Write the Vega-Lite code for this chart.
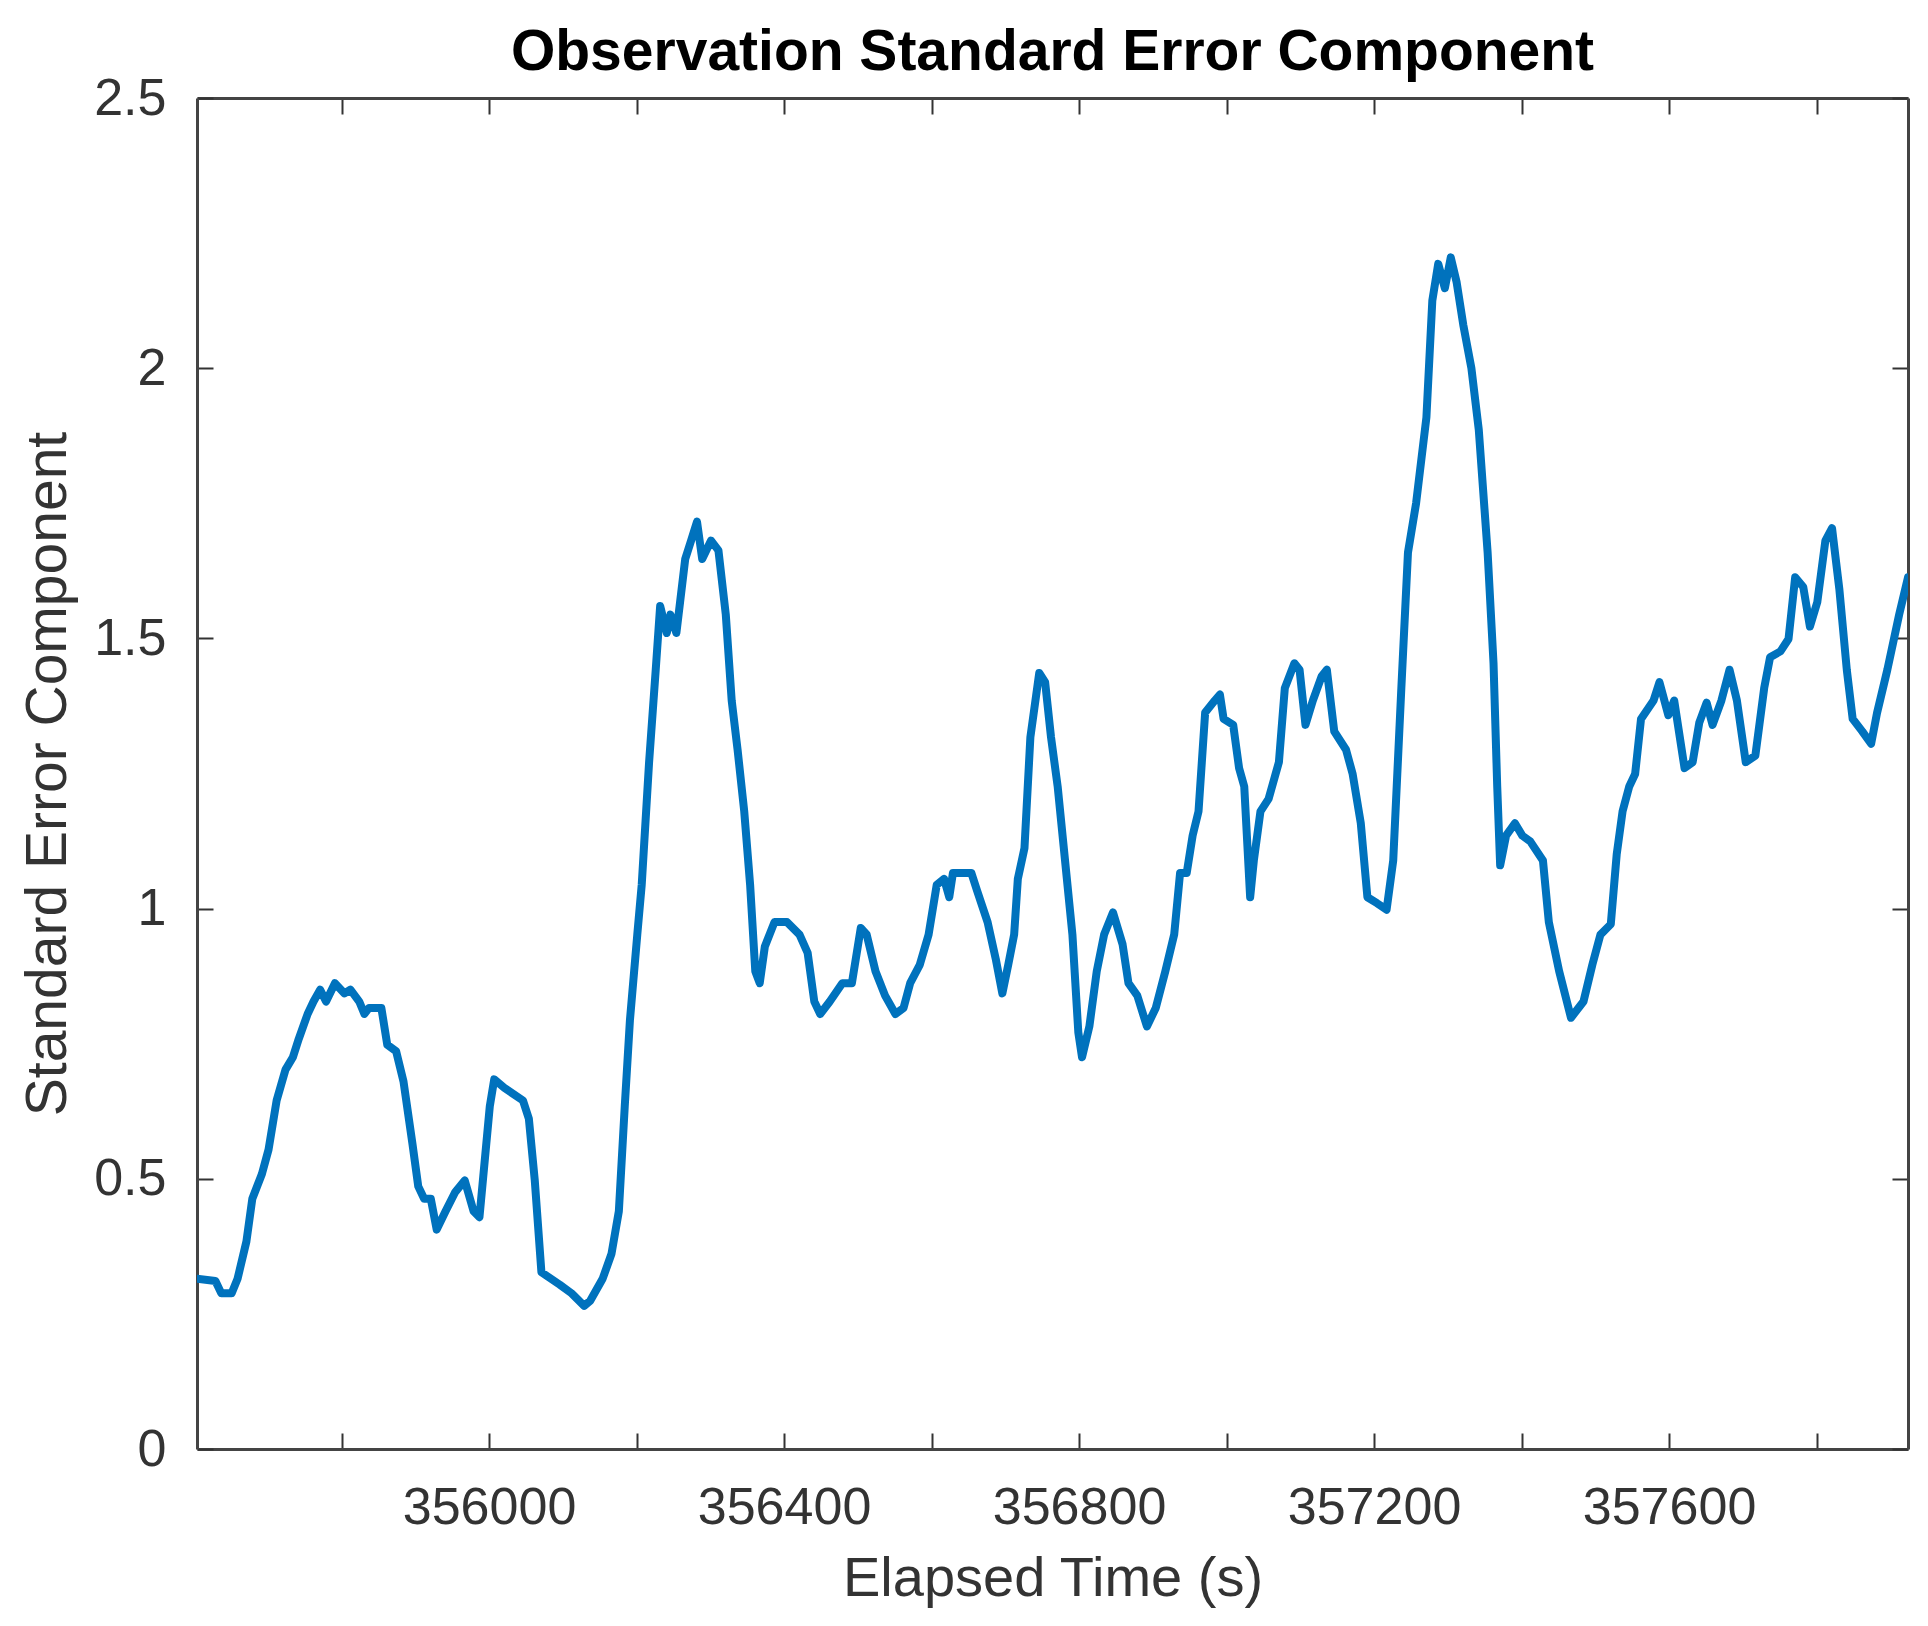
{
  "$schema": "https://vega.github.io/schema/vega-lite/v6.json",
  "autosize": {"type": "none"},
  "width": 1711,
  "height": 1351,
  "padding": {"left": 197, "top": 98, "right": 20, "bottom": 177},
  "background": "white",
  "config": {"view": {"stroke": null}, "font": "Liberation Sans, Arial"},
  "title": {"text": "Observation Standard Error Component", "font": "Liberation Sans, Arial", "fontSize": 57, "fontWeight": "bold", "color": "#000", "anchor": "middle", "offset": -10},
  "data": {"values": [
    {"t":355604,"e":0.315},{"t":355629,"e":0.311},{"t":355637,"e":0.288},{"t":355651,"e":0.288},{"t":355659,"e":0.315},
    {"t":355671,"e":0.384},{"t":355679,"e":0.463},{"t":355692,"e":0.509},{"t":355701,"e":0.554},{"t":355712,"e":0.645},
    {"t":355724,"e":0.702},{"t":355734,"e":0.725},{"t":355742,"e":0.759},{"t":355754,"e":0.805},{"t":355762,"e":0.828},
    {"t":355771,"e":0.850},{"t":355779,"e":0.828},{"t":355791,"e":0.862},{"t":355804,"e":0.843},{"t":355812,"e":0.850},
    {"t":355824,"e":0.828},{"t":355831,"e":0.805},{"t":355837,"e":0.816},{"t":355854,"e":0.816},{"t":355862,"e":0.748},
    {"t":355874,"e":0.736},{"t":355884,"e":0.680},{"t":355896,"e":0.566},{"t":355904,"e":0.486},{"t":355912,"e":0.463},
    {"t":355921,"e":0.463},{"t":355929,"e":0.406},{"t":355941,"e":0.440},{"t":355954,"e":0.475},{"t":355967,"e":0.497},
    {"t":355979,"e":0.440},{"t":355987,"e":0.429},{"t":356001,"e":0.634},{"t":356007,"e":0.684},{"t":356021,"e":0.668},
    {"t":356046,"e":0.645},{"t":356054,"e":0.611},{"t":356062,"e":0.497},{"t":356071,"e":0.327},{"t":356096,"e":0.304},
    {"t":356112,"e":0.288},{"t":356129,"e":0.265},{"t":356137,"e":0.274},{"t":356154,"e":0.315},{"t":356166,"e":0.361},
    {"t":356176,"e":0.440},{"t":356184,"e":0.634},{"t":356191,"e":0.793},{"t":356201,"e":0.952},{"t":356207,"e":1.044},
    {"t":356217,"e":1.271},{"t":356226,"e":1.442},{"t":356232,"e":1.560},{"t":356241,"e":1.510},{"t":356246,"e":1.544},
    {"t":356254,"e":1.510},{"t":356259,"e":1.567},{"t":356266,"e":1.647},{"t":356274,"e":1.681},{"t":356282,"e":1.716},
    {"t":356289,"e":1.647},{"t":356301,"e":1.681},{"t":356311,"e":1.663},{"t":356321,"e":1.544},{"t":356329,"e":1.385},
    {"t":356337,"e":1.294},{"t":356346,"e":1.180},{"t":356354,"e":1.044},{"t":356361,"e":0.884},{"t":356367,"e":0.862},
    {"t":356374,"e":0.930},{"t":356387,"e":0.975},{"t":356404,"e":0.975},{"t":356421,"e":0.952},{"t":356432,"e":0.918},
    {"t":356441,"e":0.828},{"t":356449,"e":0.805},{"t":356462,"e":0.828},{"t":356479,"e":0.862},{"t":356492,"e":0.862},
    {"t":356504,"e":0.964},{"t":356512,"e":0.952},{"t":356524,"e":0.884},{"t":356537,"e":0.839},{"t":356551,"e":0.805},
    {"t":356562,"e":0.816},{"t":356571,"e":0.862},{"t":356584,"e":0.896},{"t":356596,"e":0.952},{"t":356607,"e":1.044},
    {"t":356617,"e":1.055},{"t":356624,"e":1.021},{"t":356629,"e":1.066},{"t":356646,"e":1.066},{"t":356654,"e":1.066},
    {"t":356662,"e":1.032},{"t":356676,"e":0.975},{"t":356687,"e":0.907},{"t":356696,"e":0.843},{"t":356704,"e":0.896},
    {"t":356712,"e":0.952},{"t":356717,"e":1.055},{"t":356726,"e":1.112},{"t":356734,"e":1.317},{"t":356746,"e":1.436},
    {"t":356754,"e":1.419},{"t":356762,"e":1.317},{"t":356771,"e":1.226},{"t":356781,"e":1.089},{"t":356791,"e":0.952},
    {"t":356799,"e":0.771},{"t":356804,"e":0.725},{"t":356814,"e":0.782},{"t":356824,"e":0.884},{"t":356834,"e":0.952},
    {"t":356846,"e":0.993},{"t":356859,"e":0.934},{"t":356867,"e":0.862},{"t":356879,"e":0.839},{"t":356892,"e":0.782},
    {"t":356904,"e":0.816},{"t":356917,"e":0.884},{"t":356929,"e":0.952},{"t":356937,"e":1.066},{"t":356946,"e":1.066},
    {"t":356954,"e":1.135},{"t":356962,"e":1.180},{"t":356971,"e":1.363},{"t":356984,"e":1.385},{"t":356991,"e":1.396},
    {"t":356996,"e":1.351},{"t":357009,"e":1.340},{"t":357017,"e":1.260},{"t":357024,"e":1.226},{"t":357032,"e":1.021},
    {"t":357037,"e":1.089},{"t":357046,"e":1.180},{"t":357057,"e":1.203},{"t":357071,"e":1.271},{"t":357079,"e":1.408},
    {"t":357092,"e":1.454},{"t":357099,"e":1.442},{"t":357107,"e":1.340},{"t":357117,"e":1.385},{"t":357129,"e":1.430},
    {"t":357136,"e":1.442},{"t":357146,"e":1.328},{"t":357162,"e":1.294},{"t":357171,"e":1.249},{"t":357182,"e":1.158},
    {"t":357191,"e":1.021},{"t":357204,"e":1.010},{"t":357217,"e":0.998},{"t":357226,"e":1.089},{"t":357237,"e":1.408},
    {"t":357246,"e":1.659},{"t":357257,"e":1.750},{"t":357271,"e":1.909},{"t":357279,"e":2.125},{"t":357287,"e":2.193},
    {"t":357296,"e":2.148},{"t":357304,"e":2.205},{"t":357312,"e":2.159},{"t":357321,"e":2.080},{"t":357332,"e":2.000},
    {"t":357342,"e":1.886},{"t":357354,"e":1.659},{"t":357362,"e":1.454},{"t":357367,"e":1.226},{"t":357371,"e":1.080},
    {"t":357379,"e":1.135},{"t":357391,"e":1.158},{"t":357401,"e":1.135},{"t":357412,"e":1.124},{"t":357429,"e":1.089},
    {"t":357437,"e":0.975},{"t":357451,"e":0.884},{"t":357467,"e":0.798},{"t":357484,"e":0.828},{"t":357496,"e":0.896},
    {"t":357507,"e":0.952},{"t":357521,"e":0.971},{"t":357529,"e":1.100},{"t":357537,"e":1.180},{"t":357546,"e":1.226},
    {"t":357554,"e":1.249},{"t":357562,"e":1.351},{"t":357579,"e":1.385},{"t":357587,"e":1.419},{"t":357599,"e":1.358},
    {"t":357607,"e":1.385},{"t":357621,"e":1.260},{"t":357632,"e":1.271},{"t":357641,"e":1.344},{"t":357651,"e":1.381},
    {"t":357659,"e":1.340},{"t":357671,"e":1.385},{"t":357682,"e":1.442},{"t":357692,"e":1.385},{"t":357704,"e":1.271},
    {"t":357717,"e":1.283},{"t":357729,"e":1.408},{"t":357737,"e":1.465},{"t":357751,"e":1.476},{"t":357762,"e":1.499},
    {"t":357771,"e":1.613},{"t":357782,"e":1.595},{"t":357791,"e":1.522},{"t":357801,"e":1.567},{"t":357812,"e":1.681},
    {"t":357821,"e":1.704},{"t":357831,"e":1.590},{"t":357841,"e":1.442},{"t":357849,"e":1.351},{"t":357862,"e":1.328},
    {"t":357874,"e":1.305},{"t":357882,"e":1.362},{"t":357896,"e":1.442},{"t":357912,"e":1.544},{"t":357924,"e":1.613}
  ]},
  "layer": [
    {
      "mark": {"type": "line", "color": "#0072BD", "strokeWidth": 8, "strokeJoin": "round", "strokeCap": "round", "clip": true},
      "encoding": {
        "x": {"field": "t", "type": "quantitative", "scale": {"domain": [355604, 357924], "nice": false, "zero": false},
          "axis": {"orient": "bottom", "values": [355800, 356000, 356200, 356400, 356600, 356800, 357000, 357200, 357400, 357600, 357800],
            "labelExpr": "datum.value % 400 === 0 ? format(datum.value, 'd') : ''",
            "grid": false, "tickSize": -16, "tickWidth": 2, "tickColor": "#333", "domainColor": "#444", "domainWidth": 3,
            "labelFontSize": 52, "labelColor": "#333", "labelPadding": 49, "labelOverlap": false, "labelFlush": false, "labelLimit": 0,
            "title": "Elapsed Time (s)", "titleFontSize": 56, "titleFontWeight": "normal", "titleColor": "#333", "titlePadding": 18, "titleLimit": 0}},
        "y": {"field": "e", "type": "quantitative", "scale": {"domain": [0, 2.5], "nice": false},
          "axis": {"orient": "left", "values": [0, 0.5, 1, 1.5, 2, 2.5], "format": "~g",
            "grid": false, "tickSize": -16, "tickWidth": 2, "tickColor": "#333", "domainColor": "#444", "domainWidth": 3,
            "labelFontSize": 52, "labelColor": "#333", "labelPadding": 47, "labelOverlap": false, "labelFlush": false, "labelLimit": 0,
            "title": "Standard Error Component", "titleFontSize": 57, "titleFontWeight": "normal", "titleColor": "#333", "titlePadding": 16, "titleLimit": 0}}
      }
    },
    {
      "mark": {"type": "line", "opacity": 0},
      "encoding": {
        "x": {"field": "t", "type": "quantitative", "scale": {"domain": [355604, 357924], "nice": false, "zero": false},
          "axis": {"orient": "top", "values": [355800, 356000, 356200, 356400, 356600, 356800, 357000, 357200, 357400, 357600, 357800],
            "labels": false, "title": null, "grid": false, "tickSize": -16, "tickWidth": 2, "tickColor": "#333", "domainColor": "#444", "domainWidth": 3}},
        "y": {"field": "e", "type": "quantitative", "scale": {"domain": [0, 2.5], "nice": false},
          "axis": {"orient": "right", "values": [0, 0.5, 1, 1.5, 2, 2.5],
            "labels": false, "title": null, "grid": false, "tickSize": -16, "tickWidth": 2, "tickColor": "#333", "domainColor": "#444", "domainWidth": 3}}
      }
    }
  ],
  "resolve": {"axis": {"x": "independent", "y": "independent"}}
}
